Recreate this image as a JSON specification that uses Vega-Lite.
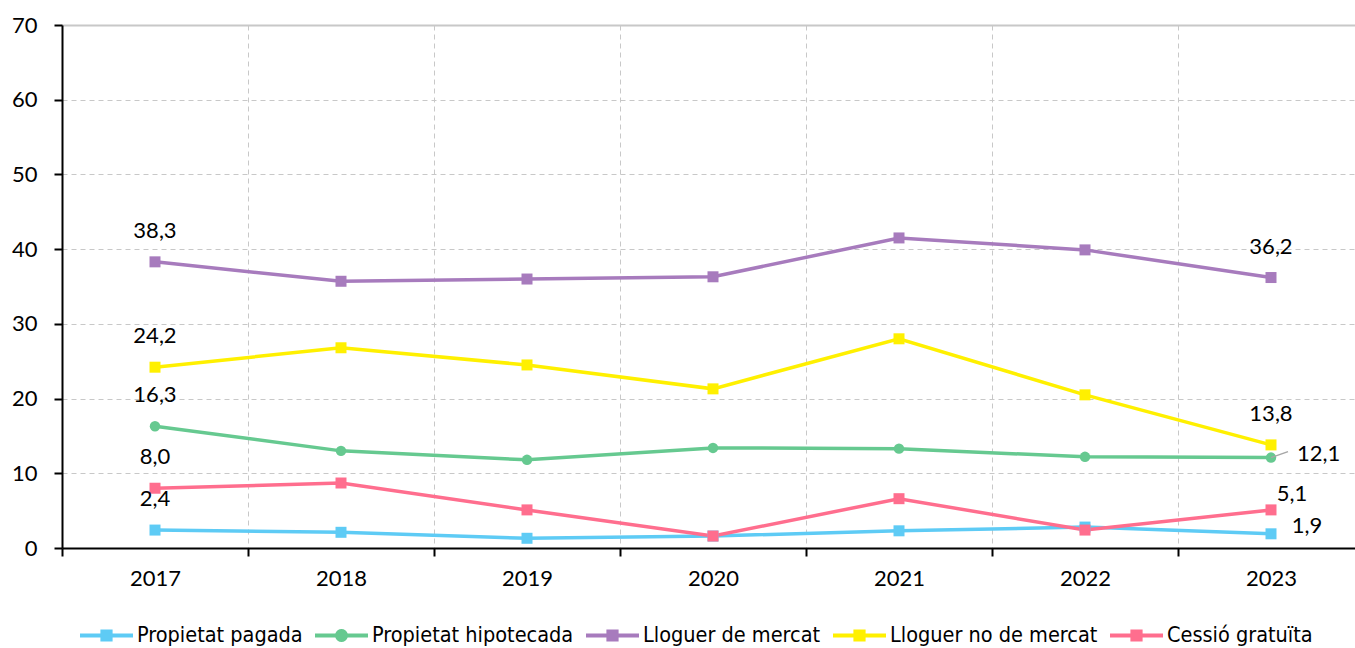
{
  "$schema": "https://vega.github.io/schema/vega-lite/v6.json",
  "autosize": "none",
  "width": 1302,
  "height": 523,
  "padding": {"left": 62, "top": 25, "right": 0, "bottom": 100},
  "background": "white",
  "config": {
    "view": {"stroke": null},
    "locale": {"number": {"decimal": ",", "thousands": ".", "grouping": [3], "currency": ["", " €"]}},
    "font": "Lato"
  },
  "data": {
    "values": [
      {"year": "2017", "serie": "Propietat pagada", "value": 2.4},
      {"year": "2018", "serie": "Propietat pagada", "value": 2.1},
      {"year": "2019", "serie": "Propietat pagada", "value": 1.3},
      {"year": "2020", "serie": "Propietat pagada", "value": 1.6},
      {"year": "2021", "serie": "Propietat pagada", "value": 2.3},
      {"year": "2022", "serie": "Propietat pagada", "value": 2.8},
      {"year": "2023", "serie": "Propietat pagada", "value": 1.9},
      {"year": "2017", "serie": "Propietat hipotecada", "value": 16.3},
      {"year": "2018", "serie": "Propietat hipotecada", "value": 13.0},
      {"year": "2019", "serie": "Propietat hipotecada", "value": 11.8},
      {"year": "2020", "serie": "Propietat hipotecada", "value": 13.4},
      {"year": "2021", "serie": "Propietat hipotecada", "value": 13.3},
      {"year": "2022", "serie": "Propietat hipotecada", "value": 12.2},
      {"year": "2023", "serie": "Propietat hipotecada", "value": 12.1},
      {"year": "2017", "serie": "Lloguer de mercat", "value": 38.3},
      {"year": "2018", "serie": "Lloguer de mercat", "value": 35.7},
      {"year": "2019", "serie": "Lloguer de mercat", "value": 36.0},
      {"year": "2020", "serie": "Lloguer de mercat", "value": 36.3},
      {"year": "2021", "serie": "Lloguer de mercat", "value": 41.5},
      {"year": "2022", "serie": "Lloguer de mercat", "value": 39.9},
      {"year": "2023", "serie": "Lloguer de mercat", "value": 36.2},
      {"year": "2017", "serie": "Lloguer no de mercat", "value": 24.2},
      {"year": "2018", "serie": "Lloguer no de mercat", "value": 26.8},
      {"year": "2019", "serie": "Lloguer no de mercat", "value": 24.5},
      {"year": "2020", "serie": "Lloguer no de mercat", "value": 21.3},
      {"year": "2021", "serie": "Lloguer no de mercat", "value": 28.0},
      {"year": "2022", "serie": "Lloguer no de mercat", "value": 20.5},
      {"year": "2023", "serie": "Lloguer no de mercat", "value": 13.8},
      {"year": "2017", "serie": "Cessió gratuïta", "value": 8.0},
      {"year": "2018", "serie": "Cessió gratuïta", "value": 8.7},
      {"year": "2019", "serie": "Cessió gratuïta", "value": 5.1},
      {"year": "2020", "serie": "Cessió gratuïta", "value": 1.6},
      {"year": "2021", "serie": "Cessió gratuïta", "value": 6.6},
      {"year": "2022", "serie": "Cessió gratuïta", "value": 2.4},
      {"year": "2023", "serie": "Cessió gratuïta", "value": 5.1}
    ]
  },
  "encoding": {
    "x": {
      "field": "year", "type": "ordinal",
      "scale": {"type": "band", "paddingInner": 0, "paddingOuter": 0},
      "axis": {
        "title": null, "labelAngle": 0, "tickBand": "extent",
        "domainColor": "black", "domainWidth": 2,
        "tickColor": "black", "tickWidth": 2, "tickSize": 8,
        "labelFontSize": 22, "labelColor": "black", "labelPadding": 12, "labelFont": "Lato",
        "grid": true, "gridColor": "#c8c8c8", "gridDash": [5, 4], "gridWidth": 1
      }
    },
    "y": {
      "field": "value", "type": "quantitative",
      "scale": {"domain": [0, 70], "nice": false},
      "axis": {
        "title": null, "values": [0, 10, 20, 30, 40, 50, 60, 70],
        "domainColor": "black", "domainWidth": 2,
        "tickColor": "black", "tickWidth": 2, "tickSize": 8,
        "labelFontSize": 22, "labelColor": "black", "labelPadding": 17, "labelFont": "Lato",
        "grid": true, "gridColor": "#c8c8c8",
        "gridDash": {"condition": {"test": "datum.value === 70", "value": []}, "value": [5, 4]},
        "gridWidth": {"condition": {"test": "datum.value === 70", "value": 2}, "value": 1}
      }
    },
    "color": {
      "field": "serie", "type": "nominal",
      "scale": {
        "domain": ["Propietat pagada", "Propietat hipotecada", "Lloguer de mercat", "Lloguer no de mercat", "Cessió gratuïta"],
        "range": ["#5ecbf5", "#66c990", "#a77bbd", "#fff000", "#ff6e8e"]
      },
      "legend": {
        "title": null, "orient": "none", "direction": "horizontal",
        "legendX": 18, "legendY": 584, "padding": 0,
        "symbolSize": 2809, "labelFontSize": 21.5, "labelColor": "black",
        "labelFont": "'DejaVu Sans Condensed', 'Roboto Condensed', Roboto, sans-serif", "labelOffset": 4, "columnPadding": 12, "labelLimit": 400,
        "symbolStrokeWidth": 0,
        "encode": {
          "symbols": {
            "enter": {
              "shape": {"signal": "datum.value === 'Propietat hipotecada' ? 'M-1,-0.075H-0.233A0.245,0.245 0 0,1 0.233,-0.075H1V0.075H0.233A0.245,0.245 0 0,1 -0.233,0.075H-1Z' : 'M-1,-0.075H-0.23V-0.23H0.23V-0.075H1V0.075H0.23V0.23H-0.23V0.075H-1Z'"}
            },
            "update": {
              "shape": {"signal": "datum.value === 'Propietat hipotecada' ? 'M-1,-0.075H-0.233A0.245,0.245 0 0,1 0.233,-0.075H1V0.075H0.233A0.245,0.245 0 0,1 -0.233,0.075H-1Z' : 'M-1,-0.075H-0.23V-0.23H0.23V-0.075H1V0.075H0.23V0.23H-0.23V0.075H-1Z'"},
              "fillOpacity": {"value": 1}
            }
          }
        }
      }
    }
  },
  "layer": [
    {"mark": {"type": "line", "strokeWidth": 3.5}},
    {
      "transform": [{"filter": "datum.serie !== 'Propietat hipotecada'"}],
      "mark": {"type": "point", "shape": "square", "filled": true, "opacity": 1, "size": 121}
    },
    {
      "transform": [{"filter": "datum.serie === 'Propietat hipotecada'"}],
      "mark": {"type": "point", "shape": "circle", "filled": true, "opacity": 1, "size": 110}
    },
    {
      "transform": [{"filter": "datum.serie === 'Propietat hipotecada' && datum.year === '2023'"}],
      "mark": {"type": "rule", "color": "#a6a6a6", "strokeWidth": 1.5, "x2Offset": 17, "y2Offset": -6},
      "encoding": {"x2": {"field": "year"}, "y2": {"field": "value"}, "color": {"value": "#a6a6a6"}}
    },
    {
      "transform": [{"filter": "datum.year === '2017' || (datum.year === '2023' && (datum.serie === 'Lloguer de mercat' || datum.serie === 'Lloguer no de mercat'))"}],
      "mark": {"type": "text", "dy": -31, "fontSize": 22, "font": "Lato", "color": "black"},
      "encoding": {"text": {"field": "value", "type": "quantitative", "format": ".1f"}, "color": {"value": "black"}}
    },
    {
      "transform": [{"filter": "datum.year === '2023' && datum.serie === 'Propietat hipotecada'"}],
      "mark": {"type": "text", "align": "left", "dx": 26, "dy": -4, "fontSize": 22, "font": "Lato", "color": "black"},
      "encoding": {"text": {"field": "value", "type": "quantitative", "format": ".1f"}, "color": {"value": "black"}}
    },
    {
      "transform": [{"filter": "datum.year === '2023' && datum.serie === 'Cessió gratuïta'"}],
      "mark": {"type": "text", "dx": 21, "dy": -16, "fontSize": 22, "font": "Lato", "color": "black"},
      "encoding": {"text": {"field": "value", "type": "quantitative", "format": ".1f"}, "color": {"value": "black"}}
    },
    {
      "transform": [{"filter": "datum.year === '2023' && datum.serie === 'Propietat pagada'"}],
      "mark": {"type": "text", "dx": 36, "dy": -8, "fontSize": 22, "font": "Lato", "color": "black"},
      "encoding": {"text": {"field": "value", "type": "quantitative", "format": ".1f"}, "color": {"value": "black"}}
    }
  ]
}
